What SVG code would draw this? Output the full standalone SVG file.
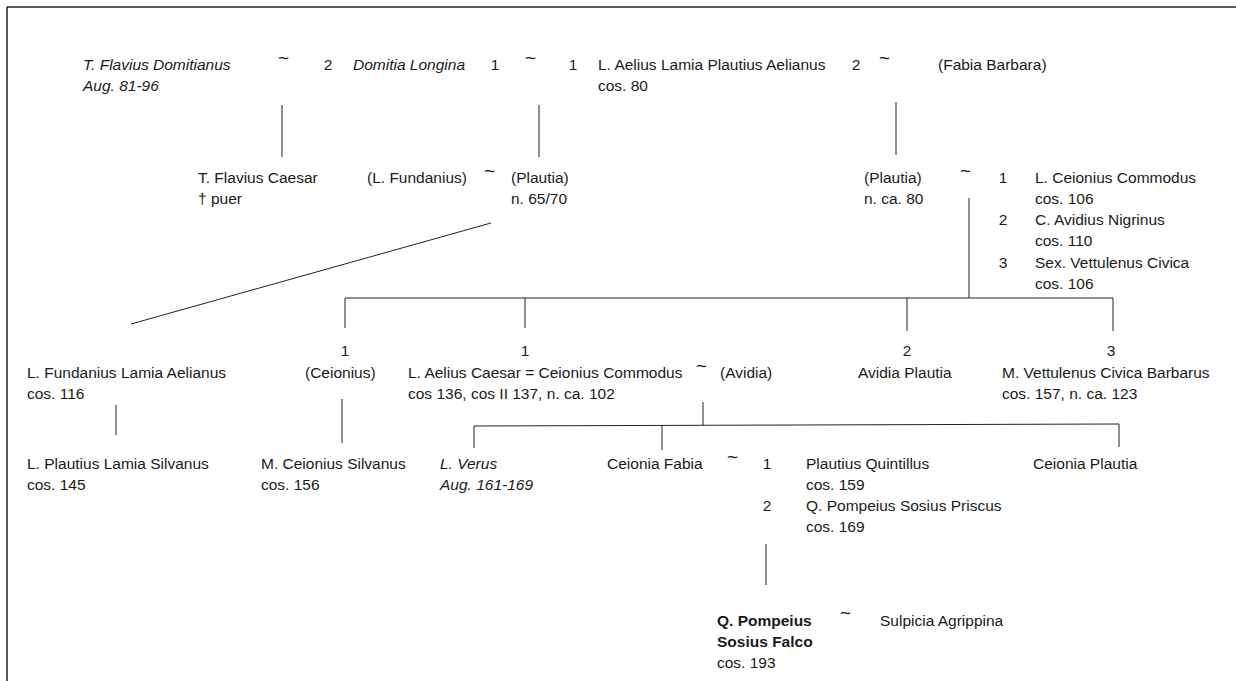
<svg xmlns="http://www.w3.org/2000/svg" width="1236" height="681" viewBox="0 0 1236 681">
<style>
text{font-family:"Liberation Sans",Arial,sans-serif;font-size:15.5px;fill:#1a1a1a}
.i{font-style:italic}
.b{font-weight:bold}
.t{font-size:19px}
.m{text-anchor:middle}
line{stroke:#222;stroke-width:1}
</style>
<rect width="1236" height="681" fill="#fff"/>
<g id="frame">
<line x1="7" y1="7" x2="1236" y2="7" style="stroke-width:1.5"/>
<line x1="7" y1="7" x2="7" y2="681" style="stroke-width:1.5"/>
</g>
<g id="connectors">
<line x1="282" y1="105" x2="282" y2="157"/>
<line x1="539" y1="105" x2="539" y2="157"/>
<line x1="896" y1="102" x2="896" y2="155"/>
<line x1="491" y1="223" x2="131" y2="324"/>
<line x1="969" y1="198" x2="969" y2="298"/>
<line x1="345" y1="298" x2="1113" y2="298"/>
<line x1="345" y1="298" x2="345" y2="328"/>
<line x1="525" y1="298" x2="525" y2="328"/>
<line x1="907" y1="298" x2="907" y2="331"/>
<line x1="1113" y1="298" x2="1113" y2="331"/>
<line x1="116" y1="405" x2="116" y2="435"/>
<line x1="342" y1="399" x2="342" y2="443"/>
<line x1="703" y1="402" x2="703" y2="425"/>
<line x1="474" y1="426" x2="1119" y2="424"/>
<line x1="474" y1="426" x2="474" y2="448"/>
<line x1="662" y1="425" x2="662" y2="450"/>
<line x1="1119" y1="424" x2="1119" y2="447"/>
<line x1="766" y1="544" x2="766" y2="585"/>
</g>
<g id="domitianus"><text class="i" x="83" y="70">T. Flavius Domitianus</text><text class="i" x="83" y="91">Aug. 81-96</text></g>
<g id="m1"><text class="t" x="278" y="64">~</text><text class="m" x="328" y="70">2</text></g>
<g id="domitia"><text class="i" x="353" y="70">Domitia Longina</text></g>
<g id="m2"><text class="m" x="495" y="70">1</text><text class="t" x="525" y="64">~</text><text class="m" x="573" y="70">1</text></g>
<g id="lamia"><text x="598" y="70">L. Aelius Lamia Plautius Aelianus</text><text x="598" y="91">cos. 80</text></g>
<g id="m3"><text class="m" x="856" y="70">2</text><text class="t" x="879" y="64">~</text></g>
<g id="fabia"><text x="938" y="70">(Fabia Barbara)</text></g>
<g id="flaviuscaesar"><text x="198" y="183">T. Flavius Caesar</text><text x="198" y="204">† puer</text></g>
<g id="fundanius"><text x="367" y="183">(L. Fundanius)</text></g>
<g id="m4"><text class="t" x="484" y="177">~</text></g>
<g id="plautia1"><text x="511" y="183">(Plautia)</text><text x="511" y="204">n. 65/70</text></g>
<g id="plautia2"><text x="864" y="183">(Plautia)</text><text x="864" y="204">n. ca. 80</text></g>
<g id="m5"><text class="t" x="960" y="177">~</text></g>
<g id="husbands">
<text class="m" x="1003" y="183">1</text><text x="1035" y="183">L. Ceionius Commodus</text><text x="1035" y="204">cos. 106</text>
<text class="m" x="1003" y="225">2</text><text x="1035" y="225">C. Avidius Nigrinus</text><text x="1035" y="246">cos. 110</text>
<text class="m" x="1003" y="268">3</text><text x="1035" y="268">Sex. Vettulenus Civica</text><text x="1035" y="289">cos. 106</text>
</g>
<g id="fundaniuslamia"><text x="27" y="378">L. Fundanius Lamia Aelianus</text><text x="27" y="399">cos. 116</text></g>
<g id="ceionius"><text class="m" x="345" y="356">1</text><text x="305" y="378">(Ceionius)</text></g>
<g id="aeliuscaesar"><text class="m" x="525" y="356">1</text><text x="408" y="378">L. Aelius Caesar = Ceionius Commodus</text><text x="408" y="399">cos 136, cos II 137, n. ca. 102</text></g>
<g id="m6"><text class="t" x="696" y="372">~</text></g>
<g id="avidia"><text x="720" y="378">(Avidia)</text></g>
<g id="avidiaplautia"><text class="m" x="907" y="356">2</text><text x="858" y="378">Avidia Plautia</text></g>
<g id="vettulenus"><text class="m" x="1111" y="356">3</text><text x="1002" y="378">M. Vettulenus Civica Barbarus</text><text x="1002" y="399">cos. 157, n. ca. 123</text></g>
<g id="plautiuslamia"><text x="27" y="469">L. Plautius Lamia Silvanus</text><text x="27" y="490">cos. 145</text></g>
<g id="ceioniussilvanus"><text x="261" y="469">M. Ceionius Silvanus</text><text x="261" y="490">cos. 156</text></g>
<g id="verus"><text class="i" x="440" y="469">L. Verus</text><text class="i" x="440" y="490">Aug. 161-169</text></g>
<g id="ceioniafabia"><text x="607" y="469">Ceionia Fabia</text></g>
<g id="m7"><text class="t" x="727" y="463">~</text></g>
<g id="fabiahusbands">
<text class="m" x="767" y="469">1</text><text x="806" y="469">Plautius Quintillus</text><text x="806" y="490">cos. 159</text>
<text class="m" x="767" y="511">2</text><text x="806" y="511">Q. Pompeius Sosius Priscus</text><text x="806" y="532">cos. 169</text>
</g>
<g id="ceioniaplautia"><text x="1033" y="469">Ceionia Plautia</text></g>
<g id="falco"><text class="b" x="717" y="626">Q. Pompeius</text><text class="b" x="717" y="647">Sosius Falco</text><text x="717" y="668">cos. 193</text></g>
<g id="m8"><text class="t" x="840" y="619">~</text></g>
<g id="sulpicia"><text x="880" y="626">Sulpicia Agrippina</text></g>
</svg>
